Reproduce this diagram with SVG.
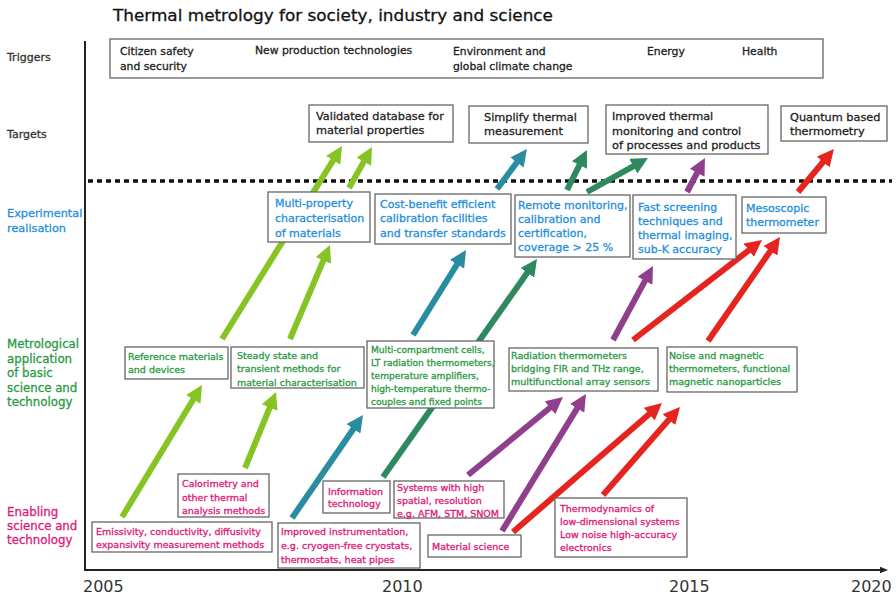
<svg xmlns="http://www.w3.org/2000/svg" width="896" height="597" viewBox="0 0 896 597">
  <style>
    text { font-family: "DejaVu Sans", "Liberation Sans", sans-serif; stroke-width: 0.3; }
    .box { fill: #fff; stroke: #666; stroke-width: 1.3; }
    .title { font-size: 16.5px; fill: #111; stroke: #111; }
    .row { font-size: 11px; fill: #333; stroke: #333; }
    .rowb { font-size: 11.3px; fill: #1f8fdc; stroke: #1f8fdc; }
    .rowg { font-size: 11.8px; fill: #2a9a45; stroke: #2a9a45; }
    .rowm { font-size: 11.8px; fill: #e0187a; stroke: #e0187a; }
    .trg { font-size: 10.8px; fill: #222; stroke: #222; }
    .tgt { font-size: 11.3px; fill: #222; stroke: #222; }
    .exp { font-size: 11px; fill: #1f8fdc; stroke: #1f8fdc; }
    .met { font-size: 9.5px; fill: #2a9a45; stroke: #2a9a45; }
    .met-s { font-size: 9.1px; }
    .ena { font-size: 9.5px; fill: #e0187a; stroke: #e0187a; }
    .year { font-size: 16px; fill: #333; stroke: none; }
    .arr { fill: none; stroke-width: 6; stroke-linecap: butt; }
    .lg { stroke: #86c424; marker-end: url(#ah-lg); }
    .tl { stroke: #2a8ca0; marker-end: url(#ah-tl); }
    .dg { stroke: #2e8a5e; marker-end: url(#ah-dg); }
    .pu { stroke: #8f3f8c; marker-end: url(#ah-pu); }
    .rd { stroke: #e52420; marker-end: url(#ah-rd); }
  </style>
  <defs>
    <marker id="ah-lg" viewBox="0 0 10 10" refX="0.5" refY="5" markerWidth="2.8" markerHeight="2.8" orient="auto"><path d="M0,0 L10,5 L0,10 Z" fill="#86c424"/></marker>
    <marker id="ah-tl" viewBox="0 0 10 10" refX="0.5" refY="5" markerWidth="2.8" markerHeight="2.8" orient="auto"><path d="M0,0 L10,5 L0,10 Z" fill="#2a8ca0"/></marker>
    <marker id="ah-dg" viewBox="0 0 10 10" refX="0.5" refY="5" markerWidth="2.8" markerHeight="2.8" orient="auto"><path d="M0,0 L10,5 L0,10 Z" fill="#2e8a5e"/></marker>
    <marker id="ah-pu" viewBox="0 0 10 10" refX="0.5" refY="5" markerWidth="2.8" markerHeight="2.8" orient="auto"><path d="M0,0 L10,5 L0,10 Z" fill="#8f3f8c"/></marker>
    <marker id="ah-rd" viewBox="0 0 10 10" refX="0.5" refY="5" markerWidth="2.8" markerHeight="2.8" orient="auto"><path d="M0,0 L10,5 L0,10 Z" fill="#e52420"/></marker>
    <marker id="ah-axis" viewBox="0 0 10 10" refX="0" refY="5" markerWidth="4" markerHeight="4" orient="auto"><path d="M0,1 L10,5 L0,9 Z" fill="#222"/></marker>
  </defs>

  <rect width="896" height="597" fill="#fff"/>

  <!-- title -->
  <text class="title" x="113" y="21" textLength="440" lengthAdjust="spacingAndGlyphs">Thermal metrology for society, industry and science</text>

  <!-- row labels -->
  <g id="row-labels">
    <text class="row" x="7" y="61">Triggers</text>
    <text class="row" x="7" y="138">Targets</text>
    <text class="rowb" x="7" y="217">Experimental</text>
    <text class="rowb" x="7" y="232">realisation</text>
    <text class="rowg" x="7" y="348">Metrological</text>
    <text class="rowg" x="7" y="362.5">application</text>
    <text class="rowg" x="7" y="377">of basic</text>
    <text class="rowg" x="7" y="391.5">science and</text>
    <text class="rowg" x="7" y="406">technology</text>
    <text class="rowm" x="7" y="516">Enabling</text>
    <text class="rowm" x="7" y="530">science and</text>
    <text class="rowm" x="7" y="544">technology</text>
  </g>

  <!-- time axes -->
  <g id="axes">
    <line x1="85" y1="41" x2="85" y2="571" stroke="#222" stroke-width="2"/>
    <line x1="84" y1="570" x2="880" y2="570" stroke="#222" stroke-width="2" marker-end="url(#ah-axis)"/>
    <line x1="88" y1="181" x2="892" y2="181" stroke="#111" stroke-width="3.5" stroke-dasharray="5 4"/>
    <text class="year" x="83" y="592">2005</text>
    <text class="year" x="382" y="592">2010</text>
    <text class="year" x="669" y="592">2015</text>
    <text class="year" x="851" y="592">2020</text>
  </g>

  <!-- arrows between levels -->
  <g id="connectors">
    <line class="arr lg" x1="122" y1="517" x2="193.7" y2="398.7"/>
    <line class="arr lg" x1="245" y1="468" x2="270" y2="406.8"/>
    <line class="arr lg" x1="222" y1="339" x2="333.6" y2="159.6"/>
    <line class="arr lg" x1="290" y1="339" x2="323.7" y2="259.7"/>
    <line class="arr lg" x1="349" y1="188" x2="364.2" y2="161"/>
    <line class="arr tl" x1="292" y1="518" x2="353.9" y2="428.2"/>
    <line class="arr tl" x1="413" y1="335" x2="457.5" y2="263.6"/>
    <line class="arr tl" x1="497" y1="189" x2="517.4" y2="161.8"/>
    <line class="arr dg" x1="383" y1="477" x2="527.8" y2="272.1"/>
    <line class="arr dg" x1="567" y1="190" x2="579.8" y2="164.3"/>
    <line class="arr dg" x1="587" y1="192" x2="634" y2="165.8"/>
    <line class="arr pu" x1="468" y1="475" x2="550.6" y2="407.2"/>
    <line class="arr pu" x1="502" y1="531" x2="577.6" y2="407.6"/>
    <line class="arr pu" x1="613" y1="340" x2="645.4" y2="280.1"/>
    <line class="arr pu" x1="687" y1="192" x2="697.5" y2="172.1"/>
    <line class="arr rd" x1="513" y1="532" x2="649.9" y2="413.5"/>
    <line class="arr rd" x1="603" y1="495" x2="669.5" y2="419"/>
    <line class="arr rd" x1="633" y1="340" x2="749.4" y2="249.8"/>
    <line class="arr rd" x1="708" y1="341" x2="770.9" y2="250.2"/>
    <line class="arr rd" x1="798" y1="192" x2="823.7" y2="161.3"/>
  </g>

  <!-- triggers -->
  <g id="triggers">
    <rect class="box" x="110" y="39" width="713" height="39"/>
    <text class="trg" x="120" y="55">Citizen safety</text>
    <text class="trg" x="120" y="70">and security</text>
    <text class="trg" x="255" y="54">New production technologies</text>
    <text class="trg" x="453" y="55">Environment and</text>
    <text class="trg" x="453" y="70">global climate change</text>
    <text class="trg" x="647" y="55">Energy</text>
    <text class="trg" x="742" y="55">Health</text>
  </g>

  <!-- targets -->
  <g id="target-database">
    <rect class="box" x="309" y="105" width="144" height="37"/>
    <text class="tgt" x="316" y="120">Validated database for</text>
    <text class="tgt" x="316" y="134">material properties</text>
  </g>
  <g id="target-simplify">
    <rect class="box" x="469" y="106" width="119" height="37"/>
    <text class="tgt" x="484" y="121">Simplify thermal</text>
    <text class="tgt" x="484" y="135">measurement</text>
  </g>
  <g id="target-monitoring">
    <rect class="box" x="606" y="105" width="162" height="49"/>
    <text class="tgt" x="612" y="120">Improved  thermal</text>
    <text class="tgt" x="612" y="134.5">monitoring and control</text>
    <text class="tgt" x="612" y="148.5">of processes and products</text>
  </g>
  <g id="target-quantum">
    <rect class="box" x="781" y="106" width="106" height="35"/>
    <text class="tgt" x="790" y="121">Quantum based</text>
    <text class="tgt" x="790" y="135">thermometry</text>
  </g>

  <!-- experimental realisation -->
  <g id="exp-multiproperty">
    <rect class="box" x="268" y="192" width="102" height="50"/>
    <text class="exp" x="275" y="207">Multi-property</text>
    <text class="exp" x="275" y="222">characterisation</text>
    <text class="exp" x="275" y="237">of materials</text>
  </g>
  <g id="exp-calibration">
    <rect class="box" x="375" y="194" width="136" height="50"/>
    <text class="exp" x="380" y="208">Cost-benefit efficient</text>
    <text class="exp" x="380" y="222">calibration facilities</text>
    <text class="exp" x="380" y="237">and transfer standards</text>
  </g>
  <g id="exp-remote">
    <rect class="box" x="515" y="195" width="115" height="62"/>
    <text class="exp" x="518" y="209">Remote monitoring,</text>
    <text class="exp" x="518" y="223">calibration and</text>
    <text class="exp" x="518" y="237">certification,</text>
    <text class="exp" x="518" y="251">coverage &gt; 25 %</text>
  </g>
  <g id="exp-screening">
    <rect class="box" x="633" y="195" width="103" height="64"/>
    <text class="exp" x="638" y="211">Fast screening</text>
    <text class="exp" x="638" y="225">techniques and</text>
    <text class="exp" x="638" y="239">thermal imaging,</text>
    <text class="exp" x="638" y="253">sub-K accuracy</text>
  </g>
  <g id="exp-mesoscopic">
    <rect class="box" x="742" y="197" width="84" height="36"/>
    <text class="exp" x="746" y="212">Mesoscopic</text>
    <text class="exp" x="746" y="226">thermometer</text>
  </g>

  <!-- metrological application -->
  <g id="met-reference">
    <rect class="box" x="125" y="347" width="103" height="32"/>
    <text class="met" x="128" y="359.5">Reference materials</text>
    <text class="met" x="128" y="372.5">and devices</text>
  </g>
  <g id="met-steady">
    <rect class="box" x="231" y="347" width="133" height="41"/>
    <text class="met" x="237" y="358.5">Steady state and</text>
    <text class="met" x="237" y="372">transient methods for</text>
    <text class="met" x="237" y="385.5">material characterisation</text>
  </g>
  <g id="met-multicompartment">
    <rect class="box" x="367" y="341" width="127" height="67"/>
    <text class="met met-s" x="371" y="352.5">Multi-compartment cells,</text>
    <text class="met met-s" x="371" y="365.5">LT radiation thermometers,</text>
    <text class="met met-s" x="371" y="378.5">temperature amplifiers,</text>
    <text class="met met-s" x="371" y="391.5">high-temperature thermo-</text>
    <text class="met met-s" x="371" y="404.5">couples and fixed points</text>
  </g>
  <g id="met-radiation">
    <rect class="box" x="509" y="348" width="149" height="43"/>
    <text class="met" x="511" y="358.5">Radiation thermometers</text>
    <text class="met" x="511" y="371.5">bridging FIR and THz range,</text>
    <text class="met" x="511" y="384.5">multifunctional array sensors</text>
  </g>
  <g id="met-noise">
    <rect class="box" x="667" y="347" width="130" height="45"/>
    <text class="met" x="669" y="358.5">Noise and magnetic</text>
    <text class="met" x="669" y="372">thermometers, functional</text>
    <text class="met" x="669" y="385">magnetic nanoparticles</text>
  </g>

  <!-- enabling science and technology -->
  <g id="ena-emissivity">
    <rect class="box" x="92" y="522" width="180" height="30"/>
    <text class="ena" x="96" y="534.5">Emissivity, conductivity, diffusivity</text>
    <text class="ena" x="96" y="547.5">expansivity measurement methods</text>
  </g>
  <g id="ena-calorimetry">
    <rect class="box" x="178" y="474" width="91" height="43"/>
    <text class="ena" x="182" y="486.5">Calorimetry and</text>
    <text class="ena" x="182" y="500.5">other thermal</text>
    <text class="ena" x="182" y="513.5">analysis methods</text>
  </g>
  <g id="ena-instrumentation">
    <rect class="box" x="278" y="523" width="142" height="45"/>
    <text class="ena" x="281" y="534.5">Improved instrumentation,</text>
    <text class="ena" x="281" y="548.5">e.g. cryogen-free cryostats,</text>
    <text class="ena" x="281" y="562.5">thermostats, heat pipes</text>
  </g>
  <g id="ena-information">
    <rect class="box" x="323" y="481" width="67" height="32"/>
    <text class="ena" x="328" y="494.5">Information</text>
    <text class="ena" x="328" y="506.5">technology</text>
  </g>
  <g id="ena-systems">
    <rect class="box" x="394" y="481" width="110" height="37"/>
    <text class="ena" x="397" y="490.5">Systems with high</text>
    <text class="ena" x="397" y="503.5">spatial, resolution</text>
    <text class="ena" x="397" y="516.5">e.g. AFM, STM, SNOM</text>
  </g>
  <g id="ena-material">
    <rect class="box" x="428" y="535" width="93" height="22"/>
    <text class="ena" x="432" y="549.5">Material science</text>
  </g>
  <g id="ena-thermodynamics">
    <rect class="box" x="555" y="498" width="132" height="59"/>
    <text class="ena" x="560" y="511.5">Thermodynamics of</text>
    <text class="ena" x="560" y="524.5">low-dimensional systems</text>
    <text class="ena" x="560" y="538">Low noise high-accuracy</text>
    <text class="ena" x="560" y="550.5">electronics</text>
  </g>
</svg>
